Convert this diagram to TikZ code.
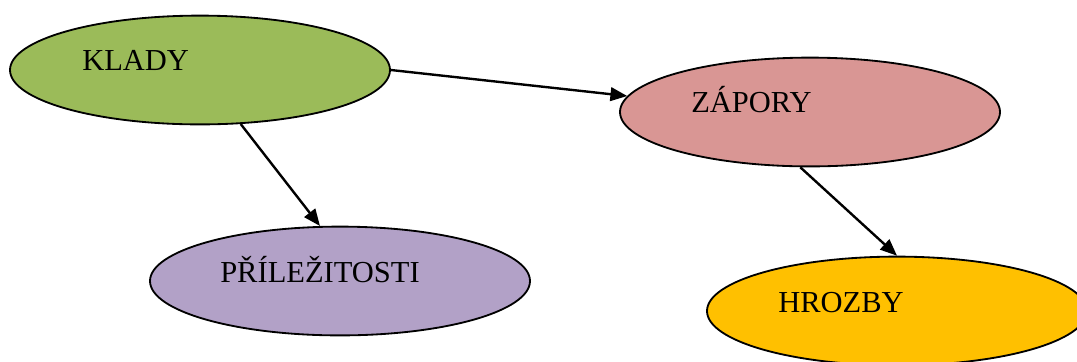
\documentclass[tikz,border=0pt]{standalone}
\usepackage{fontspec}
\setmainfont{Liberation Serif}
\usepackage{tikz}
\usetikzlibrary{shapes.geometric,arrows.meta}

\definecolor{kladycol}{HTML}{9BBB59}
\definecolor{zaporycol}{HTML}{D99694}
\definecolor{prilcol}{HTML}{B2A1C7}
\definecolor{hrozbycol}{HTML}{FFC000}

\tikzset{
    oval/.style={ellipse, draw=black, line width=1.3pt, minimum width=9.5cm, minimum height=2.72cm, inner sep=0pt},
    caption/.style={anchor=base west, inner sep=0pt, font=\fontsize{21.7}{26}\selectfont},
    link/.style={line width=1.7pt, -{Triangle[length=0.42cm,width=0.34cm]}}
}

\begin{document}
\begin{tikzpicture}
            \useasboundingbox (0,0) rectangle (26.925,-9.025);
            \node[oval, fill=kladycol]  (klady)   at (5.0,-1.75)     {};
            \node[oval, fill=zaporycol] (zapory)  at (20.25,-2.8)    {};
            \node[oval, fill=prilcol]   (pril)    at (8.5,-7.025)    {};
            \node[oval, fill=hrozbycol] (hrozby)  at (22.425,-7.775) {};
            \node[caption] (tklady)  at (2.05,-1.75)  {KLADY};
            \node[caption] (tzapory) at (17.275,-2.8) {ZÁPORY};
            \node[caption] (tpril)   at (5.5,-7.05)   {PŘÍLEŽITOSTI};
            \node[caption] (throzby) at (19.45,-7.8)  {HROZBY};
            \draw[link] (klady.east) -- (zapory.175);
            \draw[link] (klady.-53)  -- (pril.110);
            \draw[link] (zapory.260) -- (hrozby.north);
        \end{tikzpicture}
\end{document}
